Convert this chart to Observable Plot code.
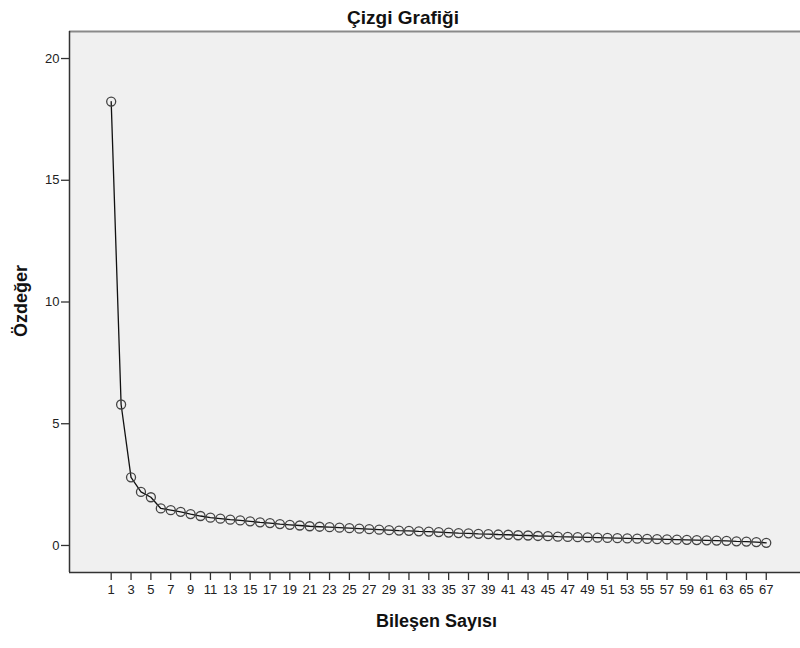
<!DOCTYPE html>
<html>
<head>
<meta charset="utf-8">
<script src="https://cdn.jsdelivr.net/npm/d3@7"></script>
<script src="https://cdn.jsdelivr.net/npm/@observablehq/plot@0.6"></script>
<style>
  html, body { margin: 0; padding: 0; background: #fff; }
  #wrap { position: relative; width: 800px; height: 648px; font-family: "Liberation Sans", Arial, sans-serif; }
  #title { position: absolute; left: 0; top: 7px; width: 806px; text-align: center; font-weight: bold; font-size: 19px; line-height: 22px; color: #111; }
  #xlabel { position: absolute; left: 69px; top: 611px; width: 735px; text-align: center; font-weight: bold; font-size: 18px; line-height: 21px; color: #111; }
  #ylabel { position: absolute; left: 21px; top: 301px; transform: translate(-50%, -50%) rotate(-90deg); font-weight: bold; font-size: 18px; line-height: 21px; color: #111; white-space: nowrap; }
  svg { position: absolute; left: 0; top: 0; }
</style>
</head>
<body>
<div id="wrap">
  <div id="chart"></div>
  <div id="title">Çizgi Grafiği</div>
  <div id="xlabel">Bileşen Sayısı</div>
  <div id="ylabel">Özdeğer</div>
</div>
<script>
// Eigenvalue per component (scree plot)
const components = d3.range(1, 68);
const eigenvalues = [
  18.23, 5.79, 2.80, 2.20, 1.98, 1.52, 1.45, 1.38, 1.29, 1.21,
  1.14, 1.10, 1.06, 1.03, 0.99, 0.95, 0.92, 0.88, 0.85, 0.82,
  0.79, 0.77, 0.75, 0.73, 0.71, 0.69, 0.67, 0.65, 0.63, 0.61,
  0.60, 0.58, 0.57, 0.55, 0.53, 0.51, 0.50, 0.48, 0.47, 0.45,
  0.44, 0.42, 0.41, 0.39, 0.38, 0.36, 0.35, 0.34, 0.33, 0.32,
  0.31, 0.30, 0.29, 0.28, 0.27, 0.26, 0.25, 0.24, 0.23, 0.22,
  0.21, 0.20, 0.19, 0.17, 0.16, 0.14, 0.11
];
const xTicks = d3.range(1, 68, 2);
const yTicks = [0, 5, 10, 15, 20];
const xDomain = [-3.2, 70.45];
const yDomain = [-1.11, 21.11];

const data = components.map((c, i) => ({component: c, eigenvalue: eigenvalues[i]}));

const chart = Plot.plot({
  width: 800,
  height: 648,
  marginTop: 31,
  marginLeft: 69,
  marginRight: 0,
  marginBottom: 76,
  style: {fontFamily: "Liberation Sans, Arial, sans-serif", fontSize: "13px", color: "#222", background: "transparent"},
  x: {domain: xDomain},
  y: {domain: yDomain},
  marks: [
    Plot.frame({fill: "#f0f0f0"}),
    Plot.ruleY([yDomain[1]], {stroke: "#8a8a8a", strokeWidth: 2}),
    Plot.ruleX([xDomain[0]], {stroke: "#333", strokeWidth: 1.5}),
    Plot.ruleY([yDomain[0]], {stroke: "#333", strokeWidth: 1.5}),
    Plot.axisX({ticks: xTicks, tickSize: 8, tickPadding: 4, label: null, stroke: "#333", strokeWidth: 1.3}),
    Plot.axisY({ticks: yTicks, tickSize: 8, tickPadding: 2, label: null, stroke: "#333", strokeWidth: 1.3}),
    Plot.line(data, {x: "component", y: "eigenvalue", stroke: "#111", strokeWidth: 1.3}),
    Plot.dot(data, {x: "component", y: "eigenvalue", r: 4.5, stroke: "#444", strokeWidth: 1.3, fill: "none"})
  ]
});
document.getElementById("chart").appendChild(chart);
</script>
</body>
</html>
